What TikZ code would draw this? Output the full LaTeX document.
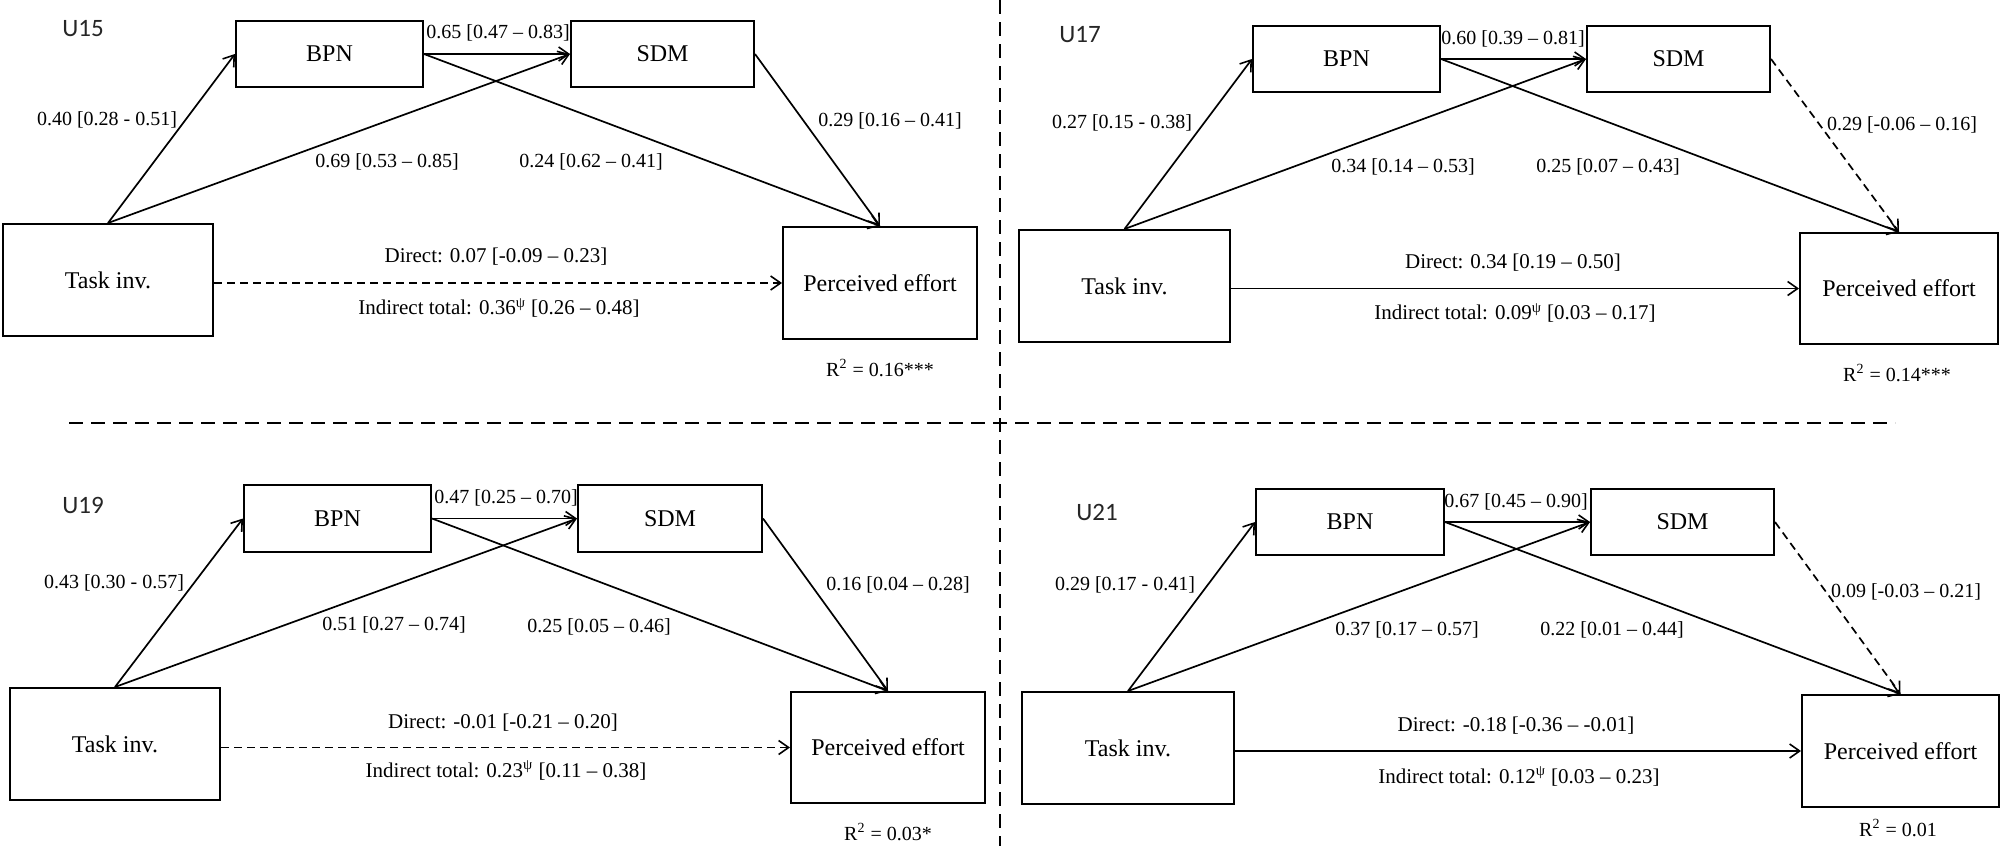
\documentclass[tikz,border=0pt]{standalone}
\usepackage{fontspec}
\setmainfont{Liberation Serif}
\newfontfamily\calibrifont{Carlito}
\usetikzlibrary{arrows.meta}
\newcommand\bxfont{\fontsize{12}{14}\selectfont}
\newcommand\lbfont{\fontsize{10}{12}\selectfont}
\newcommand\dlfont{\fontsize{10.5}{12}\selectfont}
\newcommand\ufont{\calibrifont\fontsize{12.5}{14}\selectfont}
\newcommand\psisup{\textsuperscript{ψ}}
\begin{document}
\begin{tikzpicture}[x=0.5pt,y=-0.5pt,
  box/.style={draw, line width=1pt, rectangle, inner sep=0pt, font=\bxfont},
  lab/.style={inner sep=0pt, font=\lbfont},
  dlab/.style={inner sep=0pt, font=\dlfont},
  ulab/.style={inner sep=0pt, font=\ufont, text=black!85},
  arr/.style={line width=0.85pt, -{Straight Barb[length=5pt,width=7pt,line width=0.8pt]}},
  darr/.style={arr, dash pattern=on 4pt off 2.5pt},
  divider/.style={line width=0.8pt, dash pattern=on 7pt off 4pt}]
\useasboundingbox (0,0) rectangle (2005,846);
\fill[white] (0,0) rectangle (2005,846);

% dividers
\coordinate (vtop) at (1000,0);
\coordinate (vbot) at (1000,846);
\coordinate (hl) at (69,423);
\coordinate (hr) at (1895,423);
\draw[divider] (vtop) -- (vbot);
\draw[divider] (hl) -- (hr);

% ---------- U15 ----------
\node[ulab] (u15) at (83,29) {U15};
\node[box, minimum width=93.5pt, minimum height=33pt] (B1) at (329.5,54) {BPN};
\node[box, minimum width=91.5pt, minimum height=33pt] (S1) at (662.5,54) {SDM};
\node[box, minimum width=105pt, minimum height=56pt] (T1) at (108,280) {Task inv.};
\node[box, minimum width=97pt, minimum height=56pt] (P1) at (880,283) {Perceived effort};
\draw[arr] (T1.north) -- (B1.west);
\draw[arr] (T1.north) -- (S1.west);
\draw[arr] (B1.east) -- (S1.west);
\draw[arr] (B1.east) -- (P1.north);
\draw[arr] (S1.east) -- (P1.north);
\draw[darr] (T1.east |- P1.west) -- (P1.west);
\node[lab] (l1a) at (498,33) {0.65 [0.47 -- 0.83]};
\node[lab] (l1b) at (107,120) {0.40 [0.28 - 0.51]};
\node[lab] (l1c) at (387,162) {0.69 [0.53 -- 0.85]};
\node[lab] (l1d) at (591,162) {0.24 [0.62 -- 0.41]};
\node[lab] (l1e) at (890,121) {0.29 [0.16 -- 0.41]};
\node[dlab] (l1f) at (496,257) {Direct: 0.07 [-0.09 -- 0.23]};
\node[dlab] (l1g) at (499,308) {Indirect total: 0.36\psisup{} [0.26 -- 0.48]};
\node[lab] (r1) at (880,368) {R\textsuperscript{2} = 0.16***};

% ---------- U17 ----------
\node[ulab] (u17) at (1080,35) {U17};
\node[box, minimum width=93.5pt, minimum height=33pt] (B2) at (1346.5,59) {BPN};
\node[box, minimum width=91.5pt, minimum height=33pt] (S2) at (1678.5,59) {SDM};
\node[box, minimum width=105.5pt, minimum height=56pt] (T2) at (1124.5,286) {Task inv.};
\node[box, minimum width=99pt, minimum height=55.5pt] (P2) at (1899,288.5) {Perceived effort};
\draw[arr] (T2.north) -- (B2.west);
\draw[arr] (T2.north) -- (S2.west);
\draw[arr] (B2.east) -- (S2.west);
\draw[arr] (B2.east) -- (P2.north);
\draw[darr] (S2.east) -- (P2.north);
\draw[arr] (T2.east |- P2.west) -- (P2.west);
\node[lab] (l2a) at (1513,39) {0.60 [0.39 -- 0.81]};
\node[lab] (l2b) at (1122,123) {0.27 [0.15 - 0.38]};
\node[lab] (l2c) at (1403,167) {0.34 [0.14 -- 0.53]};
\node[lab] (l2d) at (1608,167) {0.25 [0.07 -- 0.43]};
\node[lab] (l2e) at (1902,125) {0.29 [-0.06 -- 0.16]};
\node[dlab] (l2f) at (1513,263) {Direct: 0.34 [0.19 -- 0.50]};
\node[dlab] (l2g) at (1515,313) {Indirect total: 0.09\psisup{} [0.03 -- 0.17]};
\node[lab] (r2) at (1897,373) {R\textsuperscript{2} = 0.14***};

% ---------- U19 ----------
\node[ulab] (u19) at (83,505) {U19};
\node[box, minimum width=93.5pt, minimum height=33.5pt] (B3) at (337.5,518.5) {BPN};
\node[box, minimum width=92pt, minimum height=33.5pt] (S3) at (670,518.5) {SDM};
\node[box, minimum width=105pt, minimum height=56pt] (T3) at (115,744) {Task inv.};
\node[box, minimum width=97pt, minimum height=55.5pt] (P3) at (888,747.5) {Perceived effort};
\draw[arr] (T3.north) -- (B3.west);
\draw[arr] (T3.north) -- (S3.west);
\draw[arr] (B3.east) -- (S3.west);
\draw[arr] (B3.east) -- (P3.north);
\draw[arr] (S3.east) -- (P3.north);
\draw[darr] (T3.east |- P3.west) -- (P3.west);
\node[lab] (l3a) at (506,498) {0.47 [0.25 -- 0.70]};
\node[lab] (l3b) at (114,583) {0.43 [0.30 - 0.57]};
\node[lab] (l3c) at (394,625) {0.51 [0.27 -- 0.74]};
\node[lab] (l3d) at (599,627) {0.25 [0.05 -- 0.46]};
\node[lab] (l3e) at (898,585) {0.16 [0.04 -- 0.28]};
\node[dlab] (l3f) at (503,723) {Direct: -0.01 [-0.21 -- 0.20]};
\node[dlab] (l3g) at (506,770) {Indirect total: 0.23\psisup{} [0.11 -- 0.38]};
\node[lab] (r3) at (888,832) {R\textsuperscript{2} = 0.03*};

% ---------- U21 ----------
\node[ulab] (u21) at (1097,512) {U21};
\node[box, minimum width=94pt, minimum height=33pt] (B4) at (1350,522) {BPN};
\node[box, minimum width=91.5pt, minimum height=33pt] (S4) at (1682.5,522) {SDM};
\node[box, minimum width=106pt, minimum height=56pt] (T4) at (1128,748) {Task inv.};
\node[box, minimum width=98.5pt, minimum height=56pt] (P4) at (1900.5,751) {Perceived effort};
\draw[arr] (T4.north) -- (B4.west);
\draw[arr] (T4.north) -- (S4.west);
\draw[arr] (B4.east) -- (S4.west);
\draw[arr] (B4.east) -- (P4.north);
\draw[darr] (S4.east) -- (P4.north);
\draw[arr] (T4.east |- P4.west) -- (P4.west);
\node[lab] (l4a) at (1516,502) {0.67 [0.45 -- 0.90]};
\node[lab] (l4b) at (1125,585) {0.29 [0.17 - 0.41]};
\node[lab] (l4c) at (1407,630) {0.37 [0.17 -- 0.57]};
\node[lab] (l4d) at (1612,630) {0.22 [0.01 -- 0.44]};
\node[lab] (l4e) at (1906,592) {0.09 [-0.03 -- 0.21]};
\node[dlab] (l4f) at (1516,726) {Direct: -0.18 [-0.36 -- -0.01]};
\node[dlab] (l4g) at (1519,776) {Indirect total: 0.12\psisup{} [0.03 -- 0.23]};
\node[lab] (r4) at (1898,828) {R\textsuperscript{2} = 0.01};
\end{tikzpicture}
\end{document}
